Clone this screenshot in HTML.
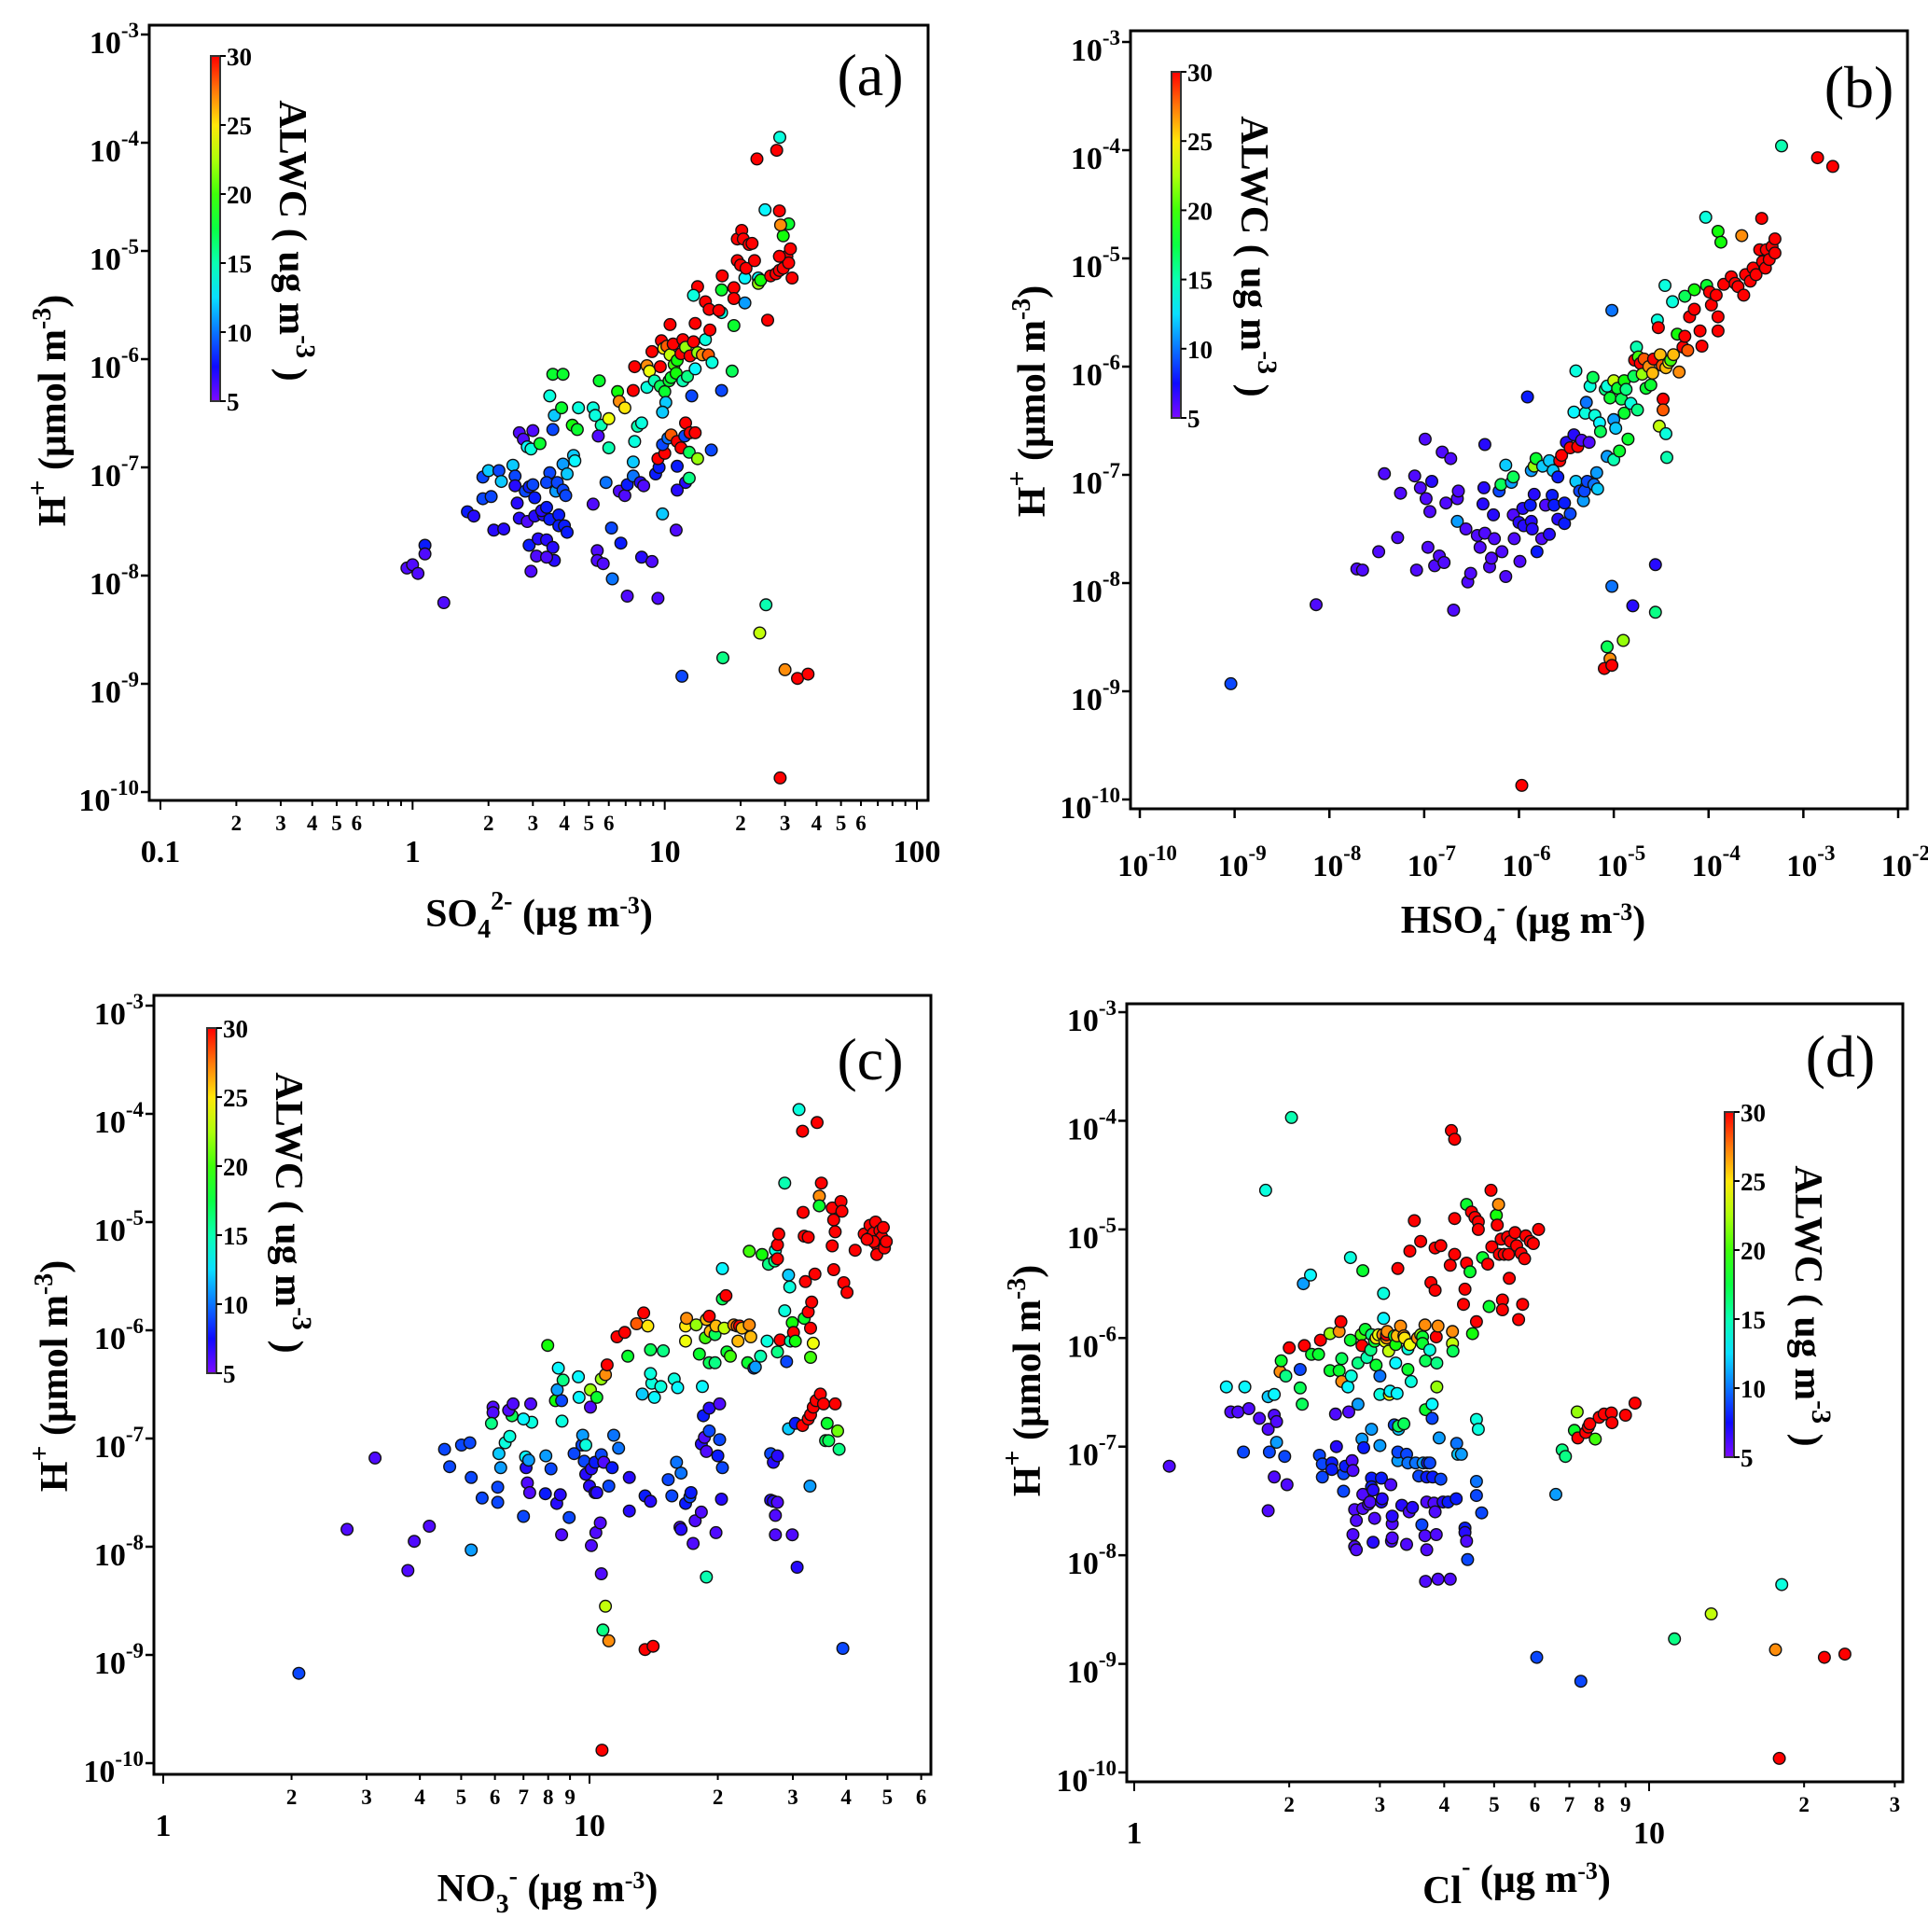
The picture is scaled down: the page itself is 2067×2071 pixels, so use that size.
<!DOCTYPE html>
<html><head><meta charset="utf-8"><style>
html,body{margin:0;padding:0;background:#fff}
svg{display:block;font-family:"Liberation Serif","DejaVu Serif",serif}
</style></head><body>
<svg id="fig" width="2067" height="2071" viewBox="0 0 2067 2071" xmlns="http://www.w3.org/2000/svg">
<rect width="2067" height="2071" fill="#fff"/>
</svg>
<script>
// ---------------- Panel (a): SO4 ----------------
const a_so4 = [0.95,1.0,1.05,1.12,1.12,1.33,1.65,1.75,1.9,2.0,2.2,1.9,2.05,2.1,2.3,2.25,2.5,2.55,2.55,2.65,2.75,2.85,2.95,3.2,3.0,2.6,2.8,2.9,3.0,3.05,2.65,2.85,3.05,3.3,3.5,3.5,3.4,3.7,3.75,3.95,4.05,3.95,4.1,4.35,4.4,3.6,3.65,3.5,3.6,3.95,3.9,4.3,4.5,4.55,5.2,5.5,5.3,5.6,6.0,6.5,6.6,6.95,6.0,5.45,5.2,5.85,6.6,6.95,7.1,7.5,7.5,7.6,7.8,8.1,8.0,8.25,9.2,9.5,9.4,10,9.8,10.3,10.6,11.2,11.6,12,12.1,12.6,13.2,12.5,13.5,11.2,12.1,12.5,11.2,9.8,11.1,15.3,5.4,6.15,6.7,5.4,5.7,6.2,7.1,8.1,8.9,9.4,2.95,2.9,3.15,3.4,3.6,3.65,3.1,3.4,3.25,3.4,3.8,3.8,4.0,4.1,7.6,7.5,8.5,8.7,8.9,9.6,9.7,9.9,10.2,10.5,10.8,10.9,11.2,11.6,11.8,12.1,12.6,13,13.5,14.1,14.9,14.5,15.1,15.4,8.5,9.1,9.6,10,10.4,10.6,11.1,11.8,12.3,12.8,13.2,10.1,9.8,10.5,13.2,14.5,15,13.5,13,16.9,16.8,16.8,16.4,18.8,18.8,18.8,18.5,16.8,20.8,20.8,19.4,20,21,19.4,20.2,20.5,21.6,22.2,22.7,23.5,23.5,24,25.6,26.3,27.6,28.5,29.5,30.5,31,28.5,31.5,32,29.5,31,28.8,28.5,25,23.2,27.8,28.6,25.2,23.8,17,11.7,30,33.6,37,28.7];
const a_logH = [-7.93,-7.90,-7.98,-7.72,-7.80,-8.25,-7.41,-7.45,-7.09,-7.03,-7.03,-7.29,-7.27,-7.58,-7.57,-7.13,-6.98,-7.08,-7.17,-6.68,-6.74,-6.81,-6.83,-6.78,-6.66,-7.33,-7.22,-7.18,-7.16,-7.28,-7.47,-7.50,-7.45,-7.44,-7.48,-7.05,-7.14,-7.22,-7.14,-7.21,-7.26,-6.97,-7.06,-6.89,-6.94,-6.65,-6.52,-6.34,-6.14,-6.14,-6.45,-6.61,-6.65,-6.45,-6.45,-6.20,-6.52,-6.61,-6.55,-6.30,-6.39,-6.45,-6.82,-6.71,-7.34,-7.14,-7.22,-7.26,-7.16,-7.08,-6.95,-6.76,-6.62,-6.59,-7.14,-7.17,-7.06,-7.0,-6.92,-6.87,-6.79,-6.73,-6.70,-6.76,-6.82,-6.71,-6.59,-6.68,-6.68,-6.86,-6.92,-6.99,-7.14,-7.10,-7.21,-7.43,-7.58,-6.84,-7.77,-7.56,-7.70,-7.86,-7.89,-8.03,-8.19,-7.83,-7.87,-8.21,-7.96,-7.72,-7.66,-7.67,-7.74,-7.86,-7.82,-7.83,-7.40,-7.37,-7.44,-7.54,-7.54,-7.60,-6.07,-6.29,-6.06,-6.11,-5.93,-6.07,-5.83,-5.90,-5.88,-5.96,-5.86,-6.05,-6.01,-5.95,-5.82,-5.89,-5.97,-5.84,-5.94,-5.96,-5.96,-5.82,-5.73,-6.03,-6.26,-6.20,-6.25,-6.30,-6.20,-6.17,-6.13,-6.20,-6.16,-6.34,-6.09,-6.40,-6.49,-5.68,-5.67,-5.47,-5.54,-5.33,-5.41,-5.23,-5.36,-5.57,-5.55,-5.34,-5.44,-5.69,-6.11,-6.29,-5.25,-5.48,-5.09,-5.13,-5.16,-4.89,-4.81,-4.89,-4.94,-4.93,-5.09,-5.25,-5.30,-5.27,-5.64,-5.23,-5.21,-5.18,-5.16,-5.05,-5.11,-5.05,-4.98,-5.25,-4.86,-4.75,-4.76,-4.63,-4.62,-4.15,-4.07,-3.95,-8.27,-8.53,-8.76,-8.93,-8.87,-8.95,-8.91,-9.87];
const a_alwc = [6,6,6,8,6,6,8,7,9,12,9,9,9,7,7,12,12,9,7,6,6,13,14,18,6,7,9,8,9,8,7,6,7,7,8,9,9,11,9,9,9,11,12,12,13,9,12,14,18,18,18,19,18,14,14,18,14,15,24,19,27,25,15,6,6,10,6,6,8,10,12,14,15,14,7,6,8,8,30,30,9,10,28,30,30,9,30,30,30,17,22,8,7,16,7,12,6,9,6,9,8,6,6,10,6,7,6,6,6,8,7,7,7,7,6,6,7,8,8,8,8,8,30,30,27,24,30,30,30,25,28,23,30,20,19,30,30,22,30,30,22,27,28,14,30,14,14,15,17,18,18,18,19,15,16,9,13,12,12,30,30,30,30,30,14,30,18,14,30,30,30,18,17,9,13,11,30,30,30,30,30,30,30,30,30,13,22,19,30,30,30,30,30,30,30,30,30,30,19,18,27,30,13,30,30,14,15,23,16,9,27,30,30,30];

// ---------------- Panel (b): HSO4 (log10) ----------------
const b_logHSO4 = [-9.04,-8.14,-7.71,-7.65,-7.48,-7.42,-7.28,-7.25,-7.10,-7.08,-7.04,-6.99,-6.98,-6.96,-6.94,-6.92,-6.89,-6.84,-6.81,-6.79,-6.77,-6.72,-6.69,-6.65,-6.65,-6.64,-6.56,-6.54,-6.51,-6.44,-6.41,-6.38,-6.37,-6.36,-6.36,-6.31,-6.29,-6.27,-6.26,-6.21,-6.19,-6.18,-6.14,-6.14,-6.08,-6.06,-6.06,-6.05,-6.00,-5.99,-5.97,-5.96,-5.95,-5.91,-5.88,-5.87,-5.87,-5.86,-5.84,-5.84,-5.82,-5.81,-5.76,-5.75,-5.72,-5.68,-5.68,-5.65,-5.64,-5.63,-5.59,-5.59,-5.57,-5.55,-5.52,-5.52,-5.50,-5.46,-5.46,-5.42,-5.42,-5.40,-5.40,-5.38,-5.36,-5.34,-5.32,-5.31,-5.30,-5.29,-5.28,-5.26,-5.25,-5.22,-5.21,-5.20,-5.18,-5.17,-5.15,-5.14,-5.09,-5.07,-5.07,-5.04,-5.02,-5.02,-5.00,-5.00,-5.00,-4.98,-4.96,-4.94,-4.92,-4.90,-4.89,-4.89,-4.87,-4.85,-4.82,-4.80,-4.79,-4.78,-4.76,-4.75,-4.74,-4.72,-4.70,-4.68,-4.66,-4.63,-4.61,-4.59,-4.58,-4.56,-4.56,-4.54,-4.53,-4.52,-4.51,-4.49,-4.48,-4.48,-4.46,-4.45,-4.45,-4.44,-4.42,-4.40,-4.38,-4.37,-4.33,-4.31,-4.27,-4.25,-4.25,-4.22,-4.20,-4.15,-4.15,-4.09,-4.07,-4.03,-4.02,-3.99,-3.97,-3.92,-3.90,-3.90,-3.90,-3.87,-3.84,-3.76,-3.72,-3.69,-3.65,-3.63,-3.61,-3.56,-3.53,-3.50,-3.46,-3.44,-3.43,-3.40,-3.39,-3.36,-3.33,-3.30,-3.30,-3.23,-2.85,-2.69,-5.07,-5.04,-5.10,-5.02];
const b_logH = [-8.93,-8.20,-7.87,-7.88,-7.71,-6.99,-7.58,-7.17,-7.01,-7.88,-7.12,-6.67,-7.22,-7.67,-7.34,-7.06,-7.84,-7.75,-6.79,-7.81,-7.26,-6.85,-8.25,-7.43,-7.22,-7.15,-7.50,-7.99,-7.91,-7.56,-7.67,-7.27,-7.12,-6.72,-7.54,-7.85,-7.77,-7.37,-7.59,-7.15,-7.09,-7.71,-6.91,-7.94,-7.07,-7.02,-7.37,-7.59,-7.44,-7.80,-9.87,-7.31,-7.47,-6.28,-7.28,-6.96,-7.43,-7.50,-7.18,-6.92,-6.85,-7.71,-7.59,-6.92,-7.28,-6.87,-7.55,-7.19,-6.96,-7.28,-7.02,-7.41,-6.87,-6.82,-7.26,-7.45,-6.70,-6.75,-7.36,-6.63,-6.42,-6.04,-7.06,-6.74,-7.15,-6.68,-7.24,-7.15,-6.43,-6.33,-7.06,-6.70,-6.18,-6.10,-7.09,-6.45,-6.98,-7.13,-6.52,-6.60,-6.21,-6.83,-6.18,-6.29,-5.48,-8.03,-6.13,-6.49,-6.86,-6.57,-6.20,-6.78,-6.30,-8.53,-6.13,-6.43,-6.21,-6.67,-6.34,-8.21,-6.09,-5.94,-5.82,-6.40,-5.91,-5.97,-6.07,-5.93,-6.20,-6.00,-6.17,-6.06,-5.93,-7.83,-8.27,-5.57,-5.64,-6.55,-5.89,-5.99,-6.30,-6.40,-5.25,-6.01,-6.62,-6.84,-5.96,-5.94,-5.40,-5.89,-5.70,-6.05,-5.82,-5.72,-5.35,-5.85,-5.54,-5.47,-5.29,-5.67,-5.81,-4.62,-5.25,-5.31,-5.43,-5.34,-4.75,-5.67,-5.54,-4.85,-5.24,-5.17,-5.23,-5.26,-4.79,-5.34,-5.15,-5.21,-5.09,-5.15,-4.92,-4.63,-5.03,-5.09,-4.92,-5.01,-4.89,-4.82,-4.95,-3.96,-4.07,-4.15,-8.59,-8.70,-8.79,-8.76];
const b_alwc = [9,6,6,6,6,6,6,6,6,6,6,6,6,6,6,7,6,6,6,6,6,6,6,11,6,6,6,6,6,6,6,7,7,7,6,6,6,7,6,9,17,6,12,6,11,17,6,6,7,6,30,7,7,8,8,11,7,7,7,22,18,8,6,12,6,12,7,8,12,8,8,7,30,30,8,8,7,30,9,7,13,14,12,30,9,6,11,9,14,10,9,6,14,17,10,14,11,12,13,17,16,11,14,18,10,10,23,11,15,12,18,18,17,22,19,18,16,18,14,7,17,30,15,16,20,30,22,28,18,27,18,26,30,7,16,14,30,23,26,28,30,28,14,26,14,15,24,20,14,26,19,27,30,30,17,28,30,30,19,30,30,14,18,30,30,30,19,30,30,19,30,30,30,30,27,30,30,30,30,30,30,30,30,30,30,30,30,30,30,15,30,30,17,27,30,30];

// ---------------- Panel (c): NO3 ----------------
const c_no3 = [2.08,2.70,3.14,3.75,3.88,4.21,4.57,4.70,5.01,5.24,5.28,5.28,5.60,5.94,5.94,5.89,6.13,6.09,6.09,6.19,6.34,6.50,6.58,6.46,6.62,7.0,7.08,7.15,7.1,7.2,7.24,7.32,7.28,7.0,7.88,7.9,7.98,8.12,8.32,8.40,8.45,8.38,8.54,8.6,8.6,8.62,8.67,8.96,9.2,9.42,9.45,9.6,9.64,9.72,9.8,9.8,10,10.05,10.05,10.1,10.1,10.3,10.3,10.35,10.4,10.4,10.66,10.6,10.66,10.66,10.7,10.8,10.9,10.75,10.9,11.1,11.0,11.1,11.3,11.4,11.7,11.6,12.1,12.3,12.4,12.4,12.9,13.4,13.7,13.9,13.5,14.1,13.3,14.0,13.9,14.2,13.5,13.9,14.9,14.7,15.3,15.6,15.8,16.1,16.0,16.4,16.3,16.4,16.8,16.8,16.8,16.9,17.2,17.3,17.5,17.7,17.8,18.1,18.3,18.3,18.4,18.5,18.6,18.8,18.8,18.8,18.7,19.1,19.1,19.1,19.1,19.2,19.7,19.7,19.8,19.8,20.0,20.2,20.2,20.4,20.5,20.5,20.7,20.9,20.5,21.0,21.4,21.8,22.2,22.3,22.5,22.8,23.5,23.7,23.9,24.3,24.5,23.7,25.4,25.2,26.1,26.3,27.2,26.6,27,26.6,27,27.3,27.6,27.6,27.6,27.6,27.6,27.3,27.3,27.8,28.0,28.7,28.7,29.0,29.3,29.5,29.3,29.6,29.9,30.1,30.4,29.9,30.7,30.4,31.0,31.6,31.7,31.9,32.1,31.9,31.6,32.6,32.9,32.6,33.0,33.0,32.6,33.0,33.2,33.5,33.5,33.8,34.0,34.2,34.6,34.6,34.8,35.0,35.4,35.8,36.1,36.4,37.1,37.4,37.1,37.7,37.7,38.2,38.9,39.1,37.4,38.5,39.3,39.5,40.2,42.0,44.1,45.3,45.5,46.4,46.9,47.2,47.2,48.0,48.5,48.9,49.2,49.7,46.4,44.8];
const c_logH = [-9.17,-7.84,-7.18,-8.22,-7.95,-7.81,-7.10,-7.26,-7.06,-7.04,-7.36,-8.03,-7.55,-6.71,-6.76,-6.86,-7.14,-7.45,-7.59,-7.27,-7.04,-6.98,-6.79,-6.74,-6.68,-7.72,-7.17,-7.41,-7.27,-7.2,-7.50,-6.85,-6.68,-6.82,-7.51,-7.16,-6.14,-7.28,-6.65,-6.55,-6.35,-7.60,-7.52,-7.89,-6.65,-6.84,-6.46,-7.73,-7.14,-6.43,-6.62,-7.06,-6.97,-7.21,-7.06,-7.33,-7.44,-6.71,-6.55,-7.99,-7.28,-7.22,-7.50,-7.87,-6.62,-7.50,-8.25,-7.78,-6.45,-7.15,-9.88,-7.22,-6.41,-8.77,-8.55,-8.87,-6.32,-7.44,-7.27,-6.97,-7.09,-6.06,-6.02,-6.24,-7.36,-7.67,-5.94,-5.84,-5.96,-6.18,-8.95,-8.92,-6.59,-6.49,-6.40,-6.62,-7.53,-7.58,-6.19,-6.52,-7.38,-7.53,-6.45,-6.53,-7.22,-7.32,-7.82,-7.84,-7.60,-5.96,-6.10,-5.89,-7.54,-7.50,-7.97,-7.76,-5.95,-6.22,-7.05,-7.68,-6.52,-6.79,-6.99,-7.12,-8.28,-5.90,-6.07,-5.87,-6.30,-6.72,-6.93,-6.01,-6.30,-6.04,-5.96,-7.87,-7.16,-7.01,-6.68,-7.56,-7.27,-5.71,-5.98,-5.68,-5.43,-6.20,-6.24,-5.95,-5.96,-6.10,-5.96,-5.98,-6.30,-5.95,-6.06,-6.35,-6.34,-5.27,-5.30,-6.24,-6.10,-5.39,-5.36,-7.14,-7.22,-7.57,-7.58,-5.26,-5.21,-5.34,-6.20,-7.16,-7.59,-7.71,-7.89,-5.11,-6.09,-4.64,-5.82,-6.29,-5.49,-5.60,-6.91,-6.10,-5.93,-6.02,-6.10,-7.89,-8.19,-6.86,-3.96,-4.16,-4.91,-5.13,-5.55,-5.89,-6.88,-5.14,-7.44,-5.83,-5.98,-6.25,-6.82,-6.78,-5.74,-6.71,-6.12,-5.48,-6.65,-4.08,-4.76,-4.85,-6.59,-4.64,-6.68,-7.02,-6.86,-7.02,-4.87,-4.98,-5.22,-5.09,-6.68,-6.93,-4.81,-4.90,-5.44,-7.10,-8.94,-5.56,-5.65,-5.26,-5.11,-5.15,-5.03,-5.10,-5.0,-5.21,-5.30,-5.08,-5.14,-5.05,-5.24,-5.18,-5.18,-5.16];
const c_alwc = [9,6,6,6,6,6,9,9,9,9,9,11,9,6,6,16,12,9,9,11,14,14,17,6,6,9,13,6,7,11,6,14,6,13,8,11,19,9,19,11,13,7,7,6,9,14,16,9,9,13,13,9,11,9,14,7,7,6,22,6,7,8,7,6,18,7,6,6,22,9,30,6,27,16,23,27,30,9,8,10,10,30,30,18,7,7,28,30,25,17,30,30,12,14,14,13,8,7,16,14,9,9,14,13,10,10,6,7,8,25,24,27,9,8,6,6,22,18,7,6,13,8,6,6,15,26,20,30,17,7,9,26,16,17,26,6,8,9,6,7,9,17,23,30,13,18,20,27,28,26,30,26,18,27,26,9,11,20,19,15,14,16,16,9,7,7,7,14,30,30,16,7,6,6,6,30,30,15,14,9,12,14,12,15,19,30,19,6,7,8,14,30,30,30,30,18,30,30,11,30,30,20,30,30,30,30,24,30,30,30,27,18,30,30,30,17,18,17,30,30,30,30,30,21,30,30,30,16,9,30,30,30,30,30,30,30,30,30,30,30,30,30,30,30,30,30];

// ---------------- Panel (d): Cl ----------------
const d_cl = [1.17,1.51,1.64,1.54,1.59,1.67,1.63,1.75,1.82,1.87,1.82,1.87,1.89,1.83,1.89,1.96,1.87,1.98,1.82,1.80,2.02,1.92,1.93,1.97,2.0,2.10,2.10,2.12,2.13,2.20,2.14,2.21,2.28,2.30,2.29,2.32,2.32,2.40,2.40,2.42,2.42,2.46,2.47,2.50,2.52,2.50,2.53,2.53,2.55,2.55,2.57,2.60,2.63,2.61,2.63,2.64,2.65,2.66,2.66,2.68,2.68,2.7,2.7,2.72,2.72,2.76,2.77,2.77,2.78,2.78,2.78,2.79,2.81,2.83,2.85,2.87,2.88,2.89,2.89,2.89,2.89,2.91,2.91,2.93,2.93,2.95,2.95,2.98,3.0,3.0,3.0,3.02,3.02,3.03,3.04,3.05,3.05,3.07,3.09,3.09,3.10,3.12,3.13,3.14,3.15,3.16,3.17,3.17,3.17,3.20,3.20,3.22,3.22,3.24,3.24,3.25,3.25,3.25,3.26,3.26,3.29,3.31,3.34,3.34,3.35,3.38,3.38,3.40,3.40,3.40,3.42,3.43,3.43,3.45,3.47,3.50,3.52,3.55,3.57,3.60,3.60,3.62,3.63,3.63,3.64,3.67,3.67,3.68,3.68,3.70,3.70,3.68,3.70,3.71,3.75,3.75,3.77,3.79,3.79,3.80,3.82,3.84,3.84,3.84,3.86,3.86,3.87,3.87,3.89,3.89,3.91,3.94,3.94,3.98,4.07,4.11,4.11,4.13,4.15,4.15,4.16,4.19,4.19,4.19,4.22,4.23,4.25,4.32,4.36,4.39,4.39,4.39,4.42,4.42,4.42,4.44,4.49,4.52,4.54,4.59,4.62,4.62,4.62,4.62,4.66,4.66,4.66,4.73,4.75,4.86,4.89,4.93,4.95,5.05,5.07,5.10,5.12,5.16,5.19,5.19,5.23,5.31,5.33,5.35,5.38,5.49,5.53,5.58,5.64,5.68,5.73,5.76,5.88,5.96,6.1,6.05,6.59,6.78,6.88,7.16,7.25,7.27,7.37,7.53,7.62,7.67,7.86,8.0,8.18,8.45,8.47,9.0,9.39,11.2,13.2,17.6,18.1,17.9,21.9,24.0];
const d_logH = [-7.18,-6.45,-6.45,-6.68,-6.68,-6.65,-7.05,-6.74,-6.54,-6.52,-6.84,-6.71,-6.77,-7.05,-6.96,-7.09,-7.28,-7.35,-7.59,-4.64,-3.97,-6.31,-6.21,-6.35,-6.09,-6.29,-6.46,-6.61,-5.50,-5.42,-6.07,-6.15,-6.15,-6.02,-7.08,-7.16,-7.28,-5.96,-6.30,-7.15,-7.21,-6.70,-7.0,-5.94,-5.85,-6.30,-6.19,-6.40,-7.25,-7.41,-7.18,-6.45,-5.26,-6.68,-6.02,-6.35,-7.13,-7.22,-7.81,-7.58,-7.92,-7.95,-7.68,-6.23,-6.61,-5.97,-6.93,-6.07,-5.38,-7.44,-7.57,-7.01,-5.92,-6.18,-7.53,-7.51,-6.11,-5.97,-6.84,-7.29,-7.37,-7.88,-7.40,-6.03,-7.66,-6.25,-6.0,-5.97,-6.35,-6.52,-6.99,-7.29,-7.51,-7.48,-5.97,-5.59,-5.82,-6.03,-6.0,-5.97,-5.94,-6.12,-6.52,-6.49,-7.35,-7.87,-7.71,-7.64,-7.84,-5.98,-6.80,-6.06,-6.23,-5.98,-6.51,-5.36,-7.13,-7.05,-6.84,-6.81,-5.89,-7.54,-5.98,-6.79,-6.0,-7.90,-7.07,-6.29,-6.10,-7.15,-7.60,-6.06,-5.20,-6.40,-7.56,-4.92,-7.15,-6.0,-7.27,-5.97,-5.11,-7.72,-5.99,-6.05,-7.15,-5.88,-7.82,-6.21,-6.66,-7.28,-7.51,-8.24,-7.95,-7.15,-6.11,-7.15,-5.49,-6.74,-6.61,-7.28,-7.52,-7.60,-5.56,-5.17,-5.99,-7.81,-6.23,-6.45,-8.22,-5.89,-6.92,-7.30,-5.15,-7.51,-7.51,-5.33,-8.22,-4.09,-6.05,-5.94,-6.12,-5.23,-4.17,-4.90,-7.48,-6.97,-7.07,-7.07,-5.69,-5.55,-7.75,-7.79,-4.77,-5.31,-7.87,-8.04,-5.39,-4.84,-5.96,-4.89,-5.85,-6.75,-7.32,-7.45,-6.84,-4.93,-5.0,-7.61,-5.26,-5.32,-5.71,-4.64,-5.16,-4.87,-4.96,-4.77,-5.23,-5.09,-5.65,-5.74,-5.23,-5.07,-5.23,-5.45,-5.11,-5.03,-5.15,-5.83,-5.22,-5.69,-5.27,-5.06,-5.11,-5.13,-5.0,-8.94,-7.44,-7.03,-7.09,-6.85,-6.68,-6.92,-9.16,-6.87,-6.82,-6.79,-6.93,-6.73,-6.70,-6.69,-6.78,-6.71,-6.60,-8.77,-8.54,-8.87,-8.27,-9.87,-8.94,-8.91];
const d_alwc = [
6,13,13,6,6,6,9,6,12,13,
6,6,6,9,11,9,6,6,6,14,
15,27,18,16,30,9,17,17,11,13,
30,18,18,30,9,9,9,22,18,8,
8,6,7,27,30,18,17,27,9,9,
8,13,14,6,18,14,6,6,6,6,
6,6,6,16,11,20,11,30,18,6,
6,8,18,15,6,6,16,16,11,8,
8,7,7,18,6,18,25,24,10,14,
11,8,7,7,27,14,13,24,27,30,
27,23,24,13,6,6,6,7,6,18,
9,19,13,26,13,30,11,9,12,17,
27,7,27,17,25,6,9,18,14,10,
6,24,30,14,7,30,10,27,9,22,
30,9,18,18,11,27,6,17,18,8,
6,6,6,8,14,9,30,9,13,8,
6,6,30,30,30,6,16,22,6,27,
11,9,30,7,8,30,6,30,23,27,
17,30,30,30,8,10,12,11,30,30,
8,7,18,30,6,9,18,30,19,30,
30,14,10,9,14,30,30,9,18,30,
18,30,30,19,30,27,30,30,30,30,
30,30,30,30,30,30,30,30,30,30,
30,30,30,30,30,
9,11,16,16,18,22,30,9,30,30,30,20,30,30,30,30,30,30,16,23,27,14,30,30,30];

const cbTicks = [5,10,15,20,25,30];
const yDecades = [-3,-4,-5,-6,-7,-8,-9,-10];

const NS = 'http://www.w3.org/2000/svg';
const svg = document.getElementById('fig');
function mk(tag, attrs, parent, txt){
  const e = document.createElementNS(NS, tag);
  for (const k in attrs) e.setAttribute(k, attrs[k]);
  if (txt !== undefined) e.textContent = txt;
  (parent || svg).appendChild(e);
  return e;
}
function colorOf(v){
  const t = Math.max(0, Math.min(1, (v - 5) / 25));
  const h = 268 * (1 - t);
  return 'hsl(' + h.toFixed(0) + ',100%,' + (t > 0.9 ? 50 : 52) + '%)';
}
function linmap(v, v0, p0, v1, p1){ return p0 + (v - v0) / (v1 - v0) * (p1 - p0); }

function drawPanel(cfg){
  const g = mk('g', {});
  
  
  const xm = v => linmap(v, cfg.xl0, cfg.xp0, cfg.xl1, cfg.xp1);
  const ym = v => linmap(v, -3, cfg.yp0, -10, cfg.yp1);
  const [L, T, R, B] = cfg.frame;

  const yax = mk('g', {}, g);
  
  
  yDecades.forEach(e => {
    const y = ym(e);
    mk('line', {x1: L - 9, x2: L, y1: y, y2: y, stroke: '#000', 'stroke-width': 2.5}, yax);
    const t = mk('text', {x: L - 11, y: y + 20, 'text-anchor': 'end', 'font-size': 34, 'font-weight': 'bold'}, yax);
    
    
    mk('tspan', {}, t, '10');
    mk('tspan', {dy: -17, 'font-size': 23}, t, String(e));
  });

  const xax = mk('g', {}, g);
  
  
  if (cfg.logTicks) {
    for (let e = cfg.xl0; e <= cfg.xl1; e++) {
      const x = xm(e);
      mk('line', {x1: x, x2: x, y1: B, y2: B + 10, stroke: '#000', 'stroke-width': 2.5}, xax);
      const t = mk('text', {x: x + 8, y: B + 72, 'text-anchor': 'middle', 'font-size': 33, 'font-weight': 'bold'}, xax);
      
      
      mk('tspan', {}, t, '10');
      mk('tspan', {dy: -17, 'font-size': 23}, t, String(e));
    }
  } else {
    for (let d = Math.floor(cfg.xl0); d <= Math.ceil(cfg.xl1); d++) {
      for (let m = 1; m <= 9; m++) {
        const lv = d + Math.log10(m);
        const x = xm(lv);
        if (x < L - 1 || x > R + 1) continue;
        const major = m === 1;
        mk('line', {x1: x, x2: x, y1: B, y2: B + (major ? 10 : 6), stroke: '#000', 'stroke-width': 2}, xax);
        if (major) {
          const val = Math.pow(10, d);
          const t = mk('text', {x: x, y: B + 66, 'text-anchor': 'middle', 'font-size': 34, 'font-weight': 'bold'}, xax, val < 1 ? val.toFixed(1) : String(Math.round(val)));
          
          
        } else if (cfg.minorLabels(d, m)) {
          const t = mk('text', {x: x, y: B + 32, 'text-anchor': 'middle', 'font-size': 23, 'font-weight': 'bold'}, xax, String(m));
          
          
        }
      }
    }
  }

  const pts = mk('g', {}, g);
  
  
  const n = Math.min(cfg.xs.length, cfg.ys.length, cfg.cs.length);
  for (let i = 0; i < n; i++) {
    const xv = cfg.logTicks ? cfg.xs[i] : Math.log10(cfg.xs[i]);
    const c = mk('circle', {cx: xm(xv).toFixed(1), cy: ym(cfg.ys[i]).toFixed(1), r: 6.3, fill: colorOf(cfg.cs[i]), stroke: '#111', 'stroke-width': 1.4}, pts);
    
    
  }

  const fr = mk('rect', {x: L, y: T, width: R - L, height: B - T, fill: 'none', stroke: '#000', 'stroke-width': 3}, g);
  
  

  const cb = cfg.cb;
  const cbg = mk('g', {}, g);
  
  
  const gid = 'grad-' + cfg.id;
  const defs = mk('defs', {}, cbg);
  const lg = mk('linearGradient', {id: gid, x1: 0, y1: 1, x2: 0, y2: 0}, defs);
  for (let k = 0; k <= 10; k++) mk('stop', {offset: k / 10, 'stop-color': colorOf(5 + k * 2.5)}, lg);
  mk('rect', {x: cb.x, y: cb.top, width: cb.w, height: cb.bot - cb.top, fill: 'url(#' + gid + ')', stroke: '#333', 'stroke-width': 2}, cbg);
  cbTicks.forEach(v => {
    const y = linmap(v, 5, cb.bot, 30, cb.top);
    mk('line', {x1: cb.x + cb.w, x2: cb.x + cb.w + 6, y1: y, y2: y, stroke: '#000', 'stroke-width': 2}, cbg);
    const t = mk('text', {x: cb.x + cb.w + 7, y: y + 10, 'font-size': 27, 'font-weight': 'bold'}, cbg, String(v));
    
    
  });
  const ct = mk('text', {transform: 'translate(' + cb.lx + ',' + cb.ly + ') rotate(90)', 'text-anchor': 'middle', 'font-size': 42, 'font-weight': 'bold'}, cbg);
  
  
  mk('tspan', {}, ct, 'ALWC ( ug m');
  mk('tspan', {dy: -18, 'font-size': 30}, ct, '-3');
  mk('tspan', {dy: 18}, ct, ' )');

  const pl = mk('text', {x: cfg.letter[0], y: cfg.letter[1], 'text-anchor': 'middle', 'font-size': 64}, g, '(' + cfg.id + ')');
  
  

  const yt = mk('text', {transform: 'translate(' + cfg.ytitle[0] + ',' + cfg.ytitle[1] + ') rotate(-90)', 'text-anchor': 'middle', 'font-size': 42, 'font-weight': 'bold'}, g);
  
  
  mk('tspan', {}, yt, 'H');
  mk('tspan', {dy: -20, 'font-size': 30}, yt, '+');
  mk('tspan', {dy: 20}, yt, ' (μmol m');
  mk('tspan', {dy: -16, 'font-size': 28}, yt, '-3');
  mk('tspan', {dy: 16}, yt, ')');

  const xt = mk('text', {x: cfg.xtitle[0], y: cfg.xtitle[1], 'text-anchor': 'middle', 'font-size': 42, 'font-weight': 'bold'}, g);
  
  
  mk('tspan', {}, xt, cfg.xname[0]);
  mk('tspan', {dy: 12, 'font-size': 28}, xt, cfg.xname[1]);
  mk('tspan', {dy: -30, 'font-size': 28}, xt, cfg.xname[2]);
  mk('tspan', {dy: 18}, xt, ' (μg m');
  mk('tspan', {dy: -14, 'font-size': 26}, xt, '-3');
  mk('tspan', {dy: 14}, xt, ')');
}

drawPanel({id: 'a', frame: [160, 27, 995, 858], xl0: -1, xp0: 172, xl1: 2, xp1: 983, yp0: 37, yp1: 849,
  xs: a_so4, ys: a_logH, cs: a_alwc, logTicks: false, minorLabels: (d, m) => m <= 6,
  cb: {x: 226, w: 10, top: 60, bot: 430, lx: 300, ly: 258},
  letter: [933, 102], ytitle: [70, 440], xtitle: [578, 993], xname: ['SO', '4', '2-']});
drawPanel({id: 'b', frame: [1212, 33, 2045, 867], xl0: -10, xp0: 1222, xl1: -2, xp1: 2035, yp0: 45, yp1: 857,
  xs: b_logHSO4, ys: b_logH, cs: b_alwc, logTicks: true,
  cb: {x: 1256, w: 10, top: 77, bot: 448, lx: 1331, ly: 275},
  letter: [1993, 115], ytitle: [1120, 430], xtitle: [1633, 1000], xname: ['HSO', '4', '-']});
drawPanel({id: 'c', frame: [165, 1067, 998, 1902], xl0: 0, xp0: 175, xl1: 1, xp1: 632, yp0: 1078, yp1: 1890,
  xs: c_no3, ys: c_logH, cs: c_alwc, logTicks: false, minorLabels: (d, m) => d === 0 || m <= 6,
  cb: {x: 222, w: 10, top: 1102, bot: 1472, lx: 296, ly: 1300},
  letter: [933, 1157], ytitle: [72, 1475], xtitle: [587, 2038], xname: ['NO', '3', '-']});
drawPanel({id: 'd', frame: [1208, 1076, 2040, 1910], xl0: 0, xp0: 1216, xl1: 1, xp1: 1768, yp0: 1085, yp1: 1900,
  xs: d_cl, ys: d_logH, cs: d_alwc, logTicks: false, minorLabels: (d, m) => d === 0 || m <= 3,
  cb: {x: 1849, w: 10, top: 1192, bot: 1562, lx: 1925, ly: 1400},
  letter: [1973, 1154], ytitle: [1115, 1480], xtitle: [1626, 2040], xname: ['Cl', '', '-']});
</script>
</body></html>
